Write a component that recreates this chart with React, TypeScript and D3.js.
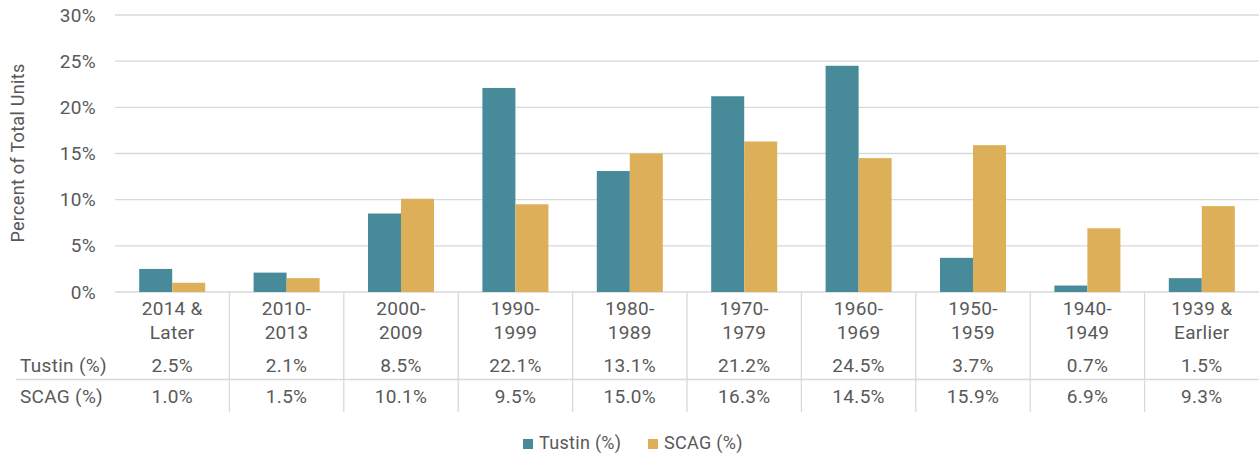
import React, { useEffect, useRef } from 'react';
import * as d3 from 'd3';

const categories = [
  ['2014 &', 'Later'],
  ['2010-', '2013'],
  ['2000-', '2009'],
  ['1990-', '1999'],
  ['1980-', '1989'],
  ['1970-', '1979'],
  ['1960-', '1969'],
  ['1950-', '1959'],
  ['1940-', '1949'],
  ['1939 &', 'Earlier'],
];
const tustin = [2.5, 2.1, 8.5, 22.1, 13.1, 21.2, 24.5, 3.7, 0.7, 1.5];
const scag = [1.0, 1.5, 10.1, 9.5, 15.0, 16.3, 14.5, 15.9, 6.9, 9.3];
const seriesNames = ['Tustin (%)', 'SCAG (%)'];
const yTicks = [0, 5, 10, 15, 20, 25, 30];

const colors = ['#478A99', '#DDAF58'];
const textColor = '#595959';
const gridColor = '#d9d9d9';
const font = 'Roboto, "Liberation Sans", Arial, sans-serif';
const fs = 19;
const ls = '0.3px';

const App = () => {
  const svgRef = useRef<SVGSVGElement>(null);
  const width = 1260;
  const height = 455;

  useEffect(() => {
    const svg = d3.select(svgRef.current);
    svg.selectAll('*').remove();

    const left = 115;
    const right = 1259;
    const x = d3.scaleBand<number>()
      .domain(d3.range(categories.length))
      .range([left, right]);
    const y = d3.scaleLinear().domain([0, 30]).range([292, 15]);

    const barW = 33;
    const inner = d3.scaleBand<number>()
      .domain([0, 1])
      .range([0, barW * 2]);

    const addText = (g: any, tx: number, ty: number, t: string, anchor = 'middle', size = fs) =>
      g.append('text')
        .attr('x', tx)
        .attr('y', ty)
        .attr('dy', '0.35em')
        .attr('text-anchor', anchor)
        .attr('fill', textColor)
        .attr('font-size', size)
        .attr('letter-spacing', ls)
        .attr('font-family', font)
        .text(t);

    // gridlines + tick labels
    svg.append('g').selectAll('line')
      .data(yTicks)
      .enter().append('line')
      .attr('x1', left).attr('x2', right)
      .attr('y1', d => y(d)).attr('y2', d => y(d))
      .attr('stroke', gridColor)
      .attr('stroke-width', 1.3);

    const ticksG = svg.append('g');
    yTicks.forEach(d => addText(ticksG, 96, y(d), `${d}%`, 'end'));

    // y axis title
    svg.append('text')
      .attr('transform', `translate(24,${153}) rotate(-90)`)
      .attr('text-anchor', 'middle')
      .attr('fill', textColor)
      .attr('font-size', 18)
      .attr('letter-spacing', ls)
      .attr('font-family', font)
      .text('Percent of Total Units');

    // bars
    const series = [tustin, scag];
    series.forEach((vals, s) => {
      svg.append('g').selectAll('rect')
        .data(vals)
        .enter().append('rect')
        .attr('x', (d, i) => (x(i) as number) + x.bandwidth() / 2 - barW + (inner(s) as number))
        .attr('y', d => y(d))
        .attr('width', barW)
        .attr('height', d => y(0) - y(d))
        .attr('fill', colors[s]);
    });

    // data table
    const table = svg.append('g');
    table.selectAll('line.v')
      .data(d3.range(1, categories.length))
      .enter().append('line')
      .attr('x1', i => x(i) as number).attr('x2', i => x(i) as number)
      .attr('y1', y(0)).attr('y2', 412)
      .attr('stroke', gridColor)
      .attr('stroke-width', 1.3);
    table.append('line')
      .attr('x1', 16).attr('x2', right)
      .attr('y1', 379.5).attr('y2', 379.5)
      .attr('stroke', gridColor)
      .attr('stroke-width', 1.3);

    categories.forEach((lines, i) => {
      const cx = (x(i) as number) + x.bandwidth() / 2;
      lines.forEach((t, k) => addText(table, cx, 308 + k * 24, t));
    });

    const rowY = [365, 396];
    series.forEach((vals, s) => {
      addText(table, 20, rowY[s], seriesNames[s], 'start');
      vals.forEach((v, i) =>
        addText(table, (x(i) as number) + x.bandwidth() / 2, rowY[s], `${v.toFixed(1)}%`));
    });

    // legend
    const legendX = [523, 648];
    seriesNames.forEach((name, s) => {
      svg.append('rect')
        .attr('x', legendX[s]).attr('y', 439)
        .attr('width', 10).attr('height', 10)
        .attr('fill', colors[s]);
      addText(svg, legendX[s] + 16, 443, name, 'start', 18);
    });
  }, []);

  return (
    <svg
      ref={svgRef}
      width={width}
      height={height}
      style={{ position: 'absolute', left: 0, top: 0 }}
    />
  );
};

export default App;
